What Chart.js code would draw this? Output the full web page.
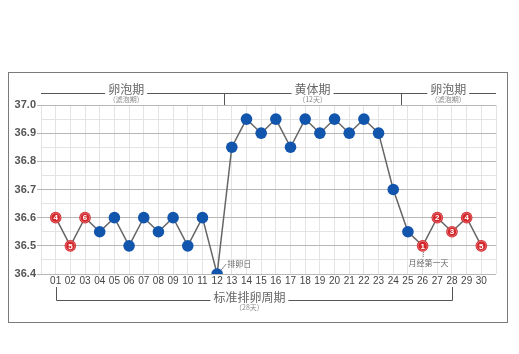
<!DOCTYPE html>
<html>
<head>
<meta charset="utf-8">
<script src="https://cdn.jsdelivr.net/npm/chart.js@4.4.1/dist/chart.umd.min.js"></script>
<style>
  html, body { margin: 0; padding: 0; background: #fff; }
  #wrap { width: 519px; height: 354px; position: relative; }
</style>
</head>
<body>
<div id="wrap"><canvas id="bbtChart"></canvas></div>
<script>
const days = ["01","02","03","04","05","06","07","08","09","10","11","12","13","14","15",
  "16","17","18","19","20","21","22","23","24","25","26","27","28","29","30"];
const temps = [36.6, 36.5, 36.6, 36.55, 36.6, 36.5, 36.6, 36.55, 36.6, 36.5, 36.6, 36.4,
  36.85, 36.95, 36.9, 36.95, 36.85, 36.95, 36.9, 36.95, 36.9, 36.95, 36.9,
  36.7, 36.55, 36.5, 36.6, 36.55, 36.6, 36.5];
const markLabels = ["4","5","6", null,null,null,null,null,null,null,null,null,null,null,null,
  null,null,null,null,null,null,null,null,null,null, "1","2","3","4","5"];
const phases = [
  { name: "卵泡期", sub: "（滤泡期）", center: 5.8 },
  { name: "黄体期", sub: "（12天）", center: 18.5 },
  { name: "卵泡期", sub: "（滤泡期）", center: 27.75 },
];

const blue = "#1155ad";
const red = "#d3262b";
const cjk = "'Noto Sans CJK SC', sans-serif";

const decorations = {
  id: "decorations",
  beforeDraw(chart) {
    const ctx = chart.ctx;
    ctx.save();
    ctx.fillStyle = "#fff";
    ctx.fillRect(0, 0, chart.width, chart.height);
    ctx.strokeStyle = "#7a7a7a";
    ctx.lineWidth = 1;
    ctx.strokeRect(8.5, 72.5, 499, 250);
    ctx.restore();
  },
  afterDraw(chart) {
    const ctx = chart.ctx;
    const xs = chart.scales.x, ys = chart.scales.y;
    const top = chart.chartArea.top;
    ctx.save();
    ctx.strokeStyle = "#555";
    ctx.lineWidth = 1;
    ctx.textAlign = "center";
    ctx.textBaseline = "middle";

    // top phase brackets
    const ly = 93.5;
    ctx.font = "12px " + cjk;
    const segs = [];
    phases.forEach((p) => {
      const cx = xs.getPixelForValue(p.center);
      const w = ctx.measureText(p.name).width;
      segs.push([cx - w / 2 - 3, cx + w / 2 + 3]);
    });
    let start = xs.getPixelForValue(0);
    segs.forEach(([a, b]) => {
      ctx.beginPath(); ctx.moveTo(start, ly); ctx.lineTo(a, ly); ctx.stroke();
      start = b;
    });
    ctx.beginPath(); ctx.moveTo(start, ly); ctx.lineTo(xs.getPixelForValue(31), ly); ctx.stroke();
    [12.5, 24.5].forEach((v) => {
      const px = Math.round(xs.getPixelForValue(v)) + 0.5;
      ctx.beginPath(); ctx.moveTo(px, ly); ctx.lineTo(px, top); ctx.stroke();
    });
    phases.forEach((p) => {
      const cx = xs.getPixelForValue(p.center);
      ctx.fillStyle = "#666";
      ctx.font = "12px " + cjk;
      ctx.fillText(p.name, cx, 89);
      ctx.fillStyle = "#888";
      ctx.font = "7px " + cjk;
      ctx.fillText(p.sub, cx, 99.5);
    });

    // bottom cycle bracket
    const by = 300.5, bt = 287;
    const x1 = Math.round(xs.getPixelForValue(1)) + 0.5;
    const x2 = Math.round(xs.getPixelForValue(28)) + 0.5;
    const bc = xs.getPixelForValue(14.2);
    ctx.font = "12px " + cjk;
    const bw = ctx.measureText("标准排卵周期").width;
    ctx.beginPath();
    ctx.moveTo(x1, bt); ctx.lineTo(x1, by); ctx.lineTo(bc - bw / 2 - 3, by);
    ctx.moveTo(bc + bw / 2 + 3, by); ctx.lineTo(x2, by); ctx.lineTo(x2, bt);
    ctx.stroke();
    ctx.fillStyle = "#666";
    ctx.fillText("标准排卵周期", bc, 297);
    ctx.fillStyle = "#888";
    ctx.font = "7px " + cjk;
    ctx.fillText("（28天）", bc, 307);

    // point notes
    const px12 = xs.getPixelForValue(12), py12 = ys.getPixelForValue(temps[11]);
    ctx.strokeStyle = "#888";
    ctx.beginPath(); ctx.moveTo(px12 + 4, py12 - 4); ctx.lineTo(px12 + 9, py12 - 10); ctx.stroke();
    ctx.fillStyle = "#666";
    ctx.font = "8px " + cjk;
    ctx.textAlign = "left";
    ctx.fillText("排卵日", px12 + 10, py12 - 10);

    const px26 = xs.getPixelForValue(26), py26 = ys.getPixelForValue(temps[25]);
    ctx.setLineDash([1, 1]);
    ctx.beginPath(); ctx.moveTo(Math.round(px26) + 0.5, py26 + 6); ctx.lineTo(Math.round(px26) + 0.5, py26 + 11); ctx.stroke();
    ctx.setLineDash([]);
    ctx.textAlign = "center";
    ctx.fillText("月经第一天", px26 + 6, py26 + 17);
    ctx.restore();
  },
  afterDatasetsDraw(chart) {
    const ctx = chart.ctx;
    const meta = chart.getDatasetMeta(0);
    ctx.save();
    ctx.textAlign = "center";
    ctx.textBaseline = "middle";
    meta.data.forEach((pt, i) => {
      const lbl = markLabels[i];
      if (!lbl) return;
      ctx.strokeStyle = "rgba(255,255,255,0.45)";
      ctx.lineWidth = 0.7;
      ctx.beginPath(); ctx.arc(pt.x, pt.y, 4.6, 0, Math.PI * 2); ctx.stroke();
      ctx.fillStyle = "#fff";
      ctx.font = "bold 8px 'Liberation Sans', Arial, sans-serif";
      ctx.fillText(lbl, pt.x, pt.y + 0.5);
    });
    ctx.restore();
  },
};

new Chart(document.getElementById("bbtChart"), {
  type: "line",
  data: {
    datasets: [{
      data: temps.map((t, i) => ({ x: i + 1, y: t })),
      borderColor: "#666",
      borderWidth: 1.5,
      tension: 0,
      pointRadius: 5.8,
      pointHoverRadius: 5.8,
      pointBorderWidth: 0,
      pointBackgroundColor: markLabels.map((l) => (l ? red : blue)),
      pointBorderColor: markLabels.map((l) => (l ? red : blue)),
    }],
  },
  options: {
    responsive: true,
    maintainAspectRatio: false,
    animation: false,
    events: [],
    layout: { padding: { top: 105, right: 23, left: 0, bottom: 0 } },
    plugins: { legend: { display: false }, tooltip: { enabled: false } },
    scales: {
      x: {
        type: "linear",
        min: 0,
        max: 31,
        afterFit: (s) => { s.height = 80; },
        border: { display: false },
        grid: { color: "#e3e3e3", drawTicks: false },
        ticks: {
          stepSize: 1,
          autoSkip: false,
          maxRotation: 0,
          padding: 1,
          color: "#444",
          font: { size: 10, family: "'Liberation Sans', Arial, sans-serif" },
          callback: (v) => days[v - 1] || "",
        },
      },
      y: {
        min: 36.4,
        max: 37.0,
        afterFit: (s) => { s.width = 41; },
        border: { display: false },
        grid: {
          tickLength: 4,
          color: (c) => (Math.round(c.tick.value * 20) % 2 === 0 ? "#b8b8b8" : "#e3e3e3"),
          tickColor: (c) => (Math.round(c.tick.value * 20) % 2 === 0 ? "#b8b8b8" : "rgba(0,0,0,0)"),
        },
        ticks: {
          stepSize: 0.05,
          autoSkip: false,
          padding: 1,
          color: "#555",
          font: { size: 11, weight: "bold", family: "'Liberation Sans', Arial, sans-serif" },
          callback: (v) => (Math.round(v * 20) % 2 === 0 ? Number(v).toFixed(1) : ""),
        },
      },
    },
  },
  plugins: [decorations],
});
</script>
</body>
</html>
